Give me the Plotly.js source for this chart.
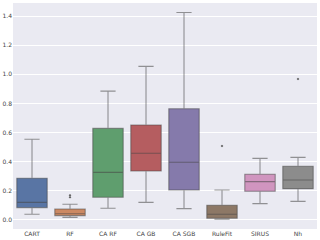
<!DOCTYPE html>
<html><head><meta charset="utf-8">
<script src="https://cdn.plot.ly/plotly-3.0.1.min.js"></script>
<style>html,body{margin:0;padding:0;background:#fff}#c{width:320px;height:240px}
svg text{-webkit-font-smoothing:grayscale;}</style>
</head><body><div id="c"></div>
<script>
const categories = ["CART","RF","CA RF","CA GB","CA SGB","RuleFit","SIRUS","Nh"];
const lowerWhisker = [0.039,0.018,0.080,0.121,0.078,0.005,0.112,0.128];
const q1Values     = [0.085,0.030,0.156,0.336,0.206,0.012,0.197,0.215];
const medians      = [0.121,0.043,0.327,0.458,0.396,0.039,0.263,0.275];
const q3Values     = [0.286,0.075,0.629,0.652,0.764,0.101,0.314,0.369];
const upperWhisker = [0.554,0.108,0.885,1.055,1.425,0.206,0.423,0.430];
const outlierCats  = ["RF","RF","RuleFit","Nh"];
const outlierVals  = [0.170,0.156,0.508,0.968];
const colors = ["#5975a4","#cc8963","#5f9e6e","#b55d60","#857aab","#8d7866","#d095bf","#8c8c8c"];
const yTicks = [0,0.2,0.4,0.6,0.8,1.0,1.2,1.4];

const traces = categories.map((c,i)=>({
  type:'box', x:[c], q1:[q1Values[i]], median:[medians[i]], q3:[q3Values[i]],
  lowerfence:[lowerWhisker[i]], upperfence:[upperWhisker[i]],
  fillcolor:colors[i], line:{color:'rgba(70,70,70,0.55)', width:1.1},
  width:0.8, whiskerwidth:0.5, boxpoints:false, showlegend:false, hoverinfo:'skip'
}));
traces.push({type:'scatter', mode:'markers', x:outlierCats, y:outlierVals,
  marker:{color:'#555', size:2, symbol:'diamond'}, showlegend:false, hoverinfo:'skip'});

const layout = {
  width:320, height:240, margin:{l:13,r:3,t:3,b:11},
  paper_bgcolor:'#ffffff', plot_bgcolor:'#eaeaf2', boxmode:'overlay',
  font:{family:'DejaVu Sans', size:6, color:'#444'},
  xaxis:{type:'category', categoryorder:'array', categoryarray:categories,
    showgrid:false, zeroline:false, ticks:'', tickfont:{size:6, color:'#444'}, ticklen:0, range:[-0.5,7.5]},
  yaxis:{range:[-0.062,1.49], tickvals:yTicks, tickformat:'.1f', showgrid:true, gridcolor:'#ffffff',
    gridwidth:1, zeroline:false, ticks:'', tickfont:{size:6, color:'#444'}},
};
Plotly.newPlot('c', traces, layout, {staticPlot:true, displayModeBar:false});
</script></body></html>
